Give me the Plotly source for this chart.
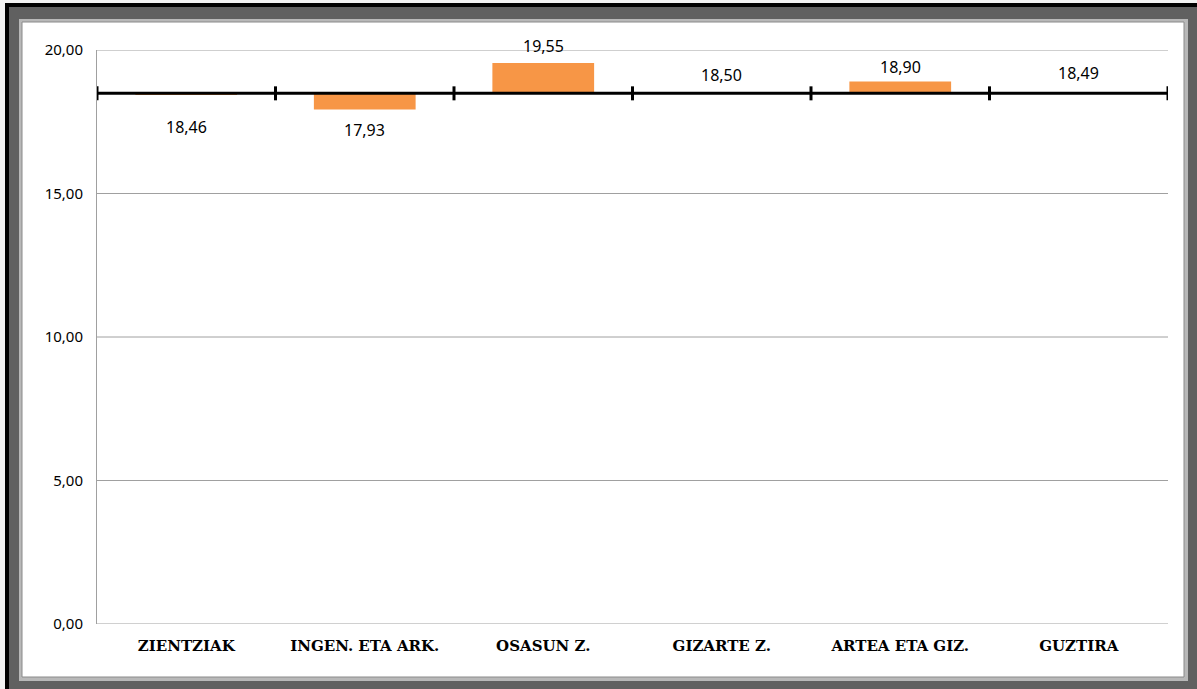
import plotly.graph_objects as go

# ---- data ----
categories = ["ZIENTZIAK", "INGEN. ETA ARK.", "OSASUN Z.", "GIZARTE Z.", "ARTEA ETA GIZ.", "GUZTIRA"]
values = [18.46, 17.93, 19.55, 18.50, 18.90, 18.49]
baseline = 18.49  # GUZTIRA value, where the horizontal axis crosses
y_ticks = [0, 5, 10, 15, 20]

# ---- style ----
W, H = 1197, 689
ML, MR, MT, MB = 97, 29, 50, 65
PW, PH = W - ML - MR, H - MT - MB
label_shift = [-33, -21, 17, 18, 15, 20]  # pixel offsets of data labels

BAR = "#F79646"
GRID = "#A0A0A0"

def px_x(p):
    return (p - ML) / PW

def px_y(p):
    return (H - MB - p) / PH

fig = go.Figure()
fig.add_trace(go.Bar(
    x=categories,
    y=[v - baseline for v in values],
    base=baseline,
    width=0.57,
    marker=dict(color=BAR, line=dict(width=0)),
    hoverinfo="skip",
))

shapes = []
def rect(x0, y0, x1, y1, fill, line=None):
    d = dict(type="rect", xref="paper", yref="paper",
             x0=px_x(x0), x1=px_x(x1), y0=px_y(y1), y1=px_y(y0),
             fillcolor=fill, layer="below", line=dict(width=0))
    if line:
        d["line"] = dict(color=line, width=1)
    return d

shapes.append(rect(5, 3, W + 2, H + 2, "#000000"))
shapes.append(rect(9, 7, W + 2, H + 2, "#606060"))
shapes.append(rect(19, 19, 1188, 681, "#B8B8B8"))
shapes.append(rect(22, 22, 1184, 677, "#FFFFFF", line="#8A8A8A"))

# horizontal gridlines (explicit so the edge ones show)
for t in y_ticks:
    shapes.append(dict(type="line", xref="paper", yref="y", x0=0, x1=1, y0=t, y1=t,
                       line=dict(color=GRID, width=1), layer="below"))

# crossing axis line at baseline
n = len(categories)
shapes.append(dict(type="line", xref="x", yref="y", x0=-0.5, x1=n - 0.5,
                   y0=baseline, y1=baseline, line=dict(color="#000000", width=3), layer="above"))
for k in range(n + 1):
    shapes.append(dict(type="line", xref="x", yref="y", ysizemode="pixel", yanchor=baseline,
                       x0=k - 0.5, x1=k - 0.5, y0=-7, y1=7,
                       line=dict(color="#000000", width=3), layer="above"))

annotations = []
for c, v, s in zip(categories, values, label_shift):
    annotations.append(dict(
        x=c, y=v, xref="x", yref="y", text=f"{v:.2f}".replace(".", ","),
        showarrow=False, yshift=s, yanchor="middle",
        font=dict(family="Noto Sans", size=16, color="#000000"),
    ))

fig.update_layout(
    width=W, height=H,
    margin=dict(l=ML, r=MR, t=MT, b=MB),
    paper_bgcolor="#F2F2F2",
    plot_bgcolor="rgba(0,0,0,0)",
    separators=",.",
    showlegend=False,
    shapes=shapes,
    annotations=annotations,
    xaxis=dict(
        type="category",
        range=[-0.5, n - 0.5],
        showgrid=False, showline=False, zeroline=False, ticks="",
        ticklabelstandoff=11,
        tickfont=dict(family="DejaVu Serif", size=15, color="#000000", weight="bold"),
    ),
    yaxis=dict(
        range=[0, 20],
        tickvals=y_ticks,
        tickformat=".2f",
        showgrid=False,
        showline=True, linecolor=GRID, linewidth=1,
        zeroline=False, ticks="",
        ticklabelstandoff=10,
        tickfont=dict(family="Noto Sans", size=15, color="#000000"),
    ),
)

fig.write_html("out.html", config={"displayModeBar": False},
               post_script="document.body.style.margin='0';")
